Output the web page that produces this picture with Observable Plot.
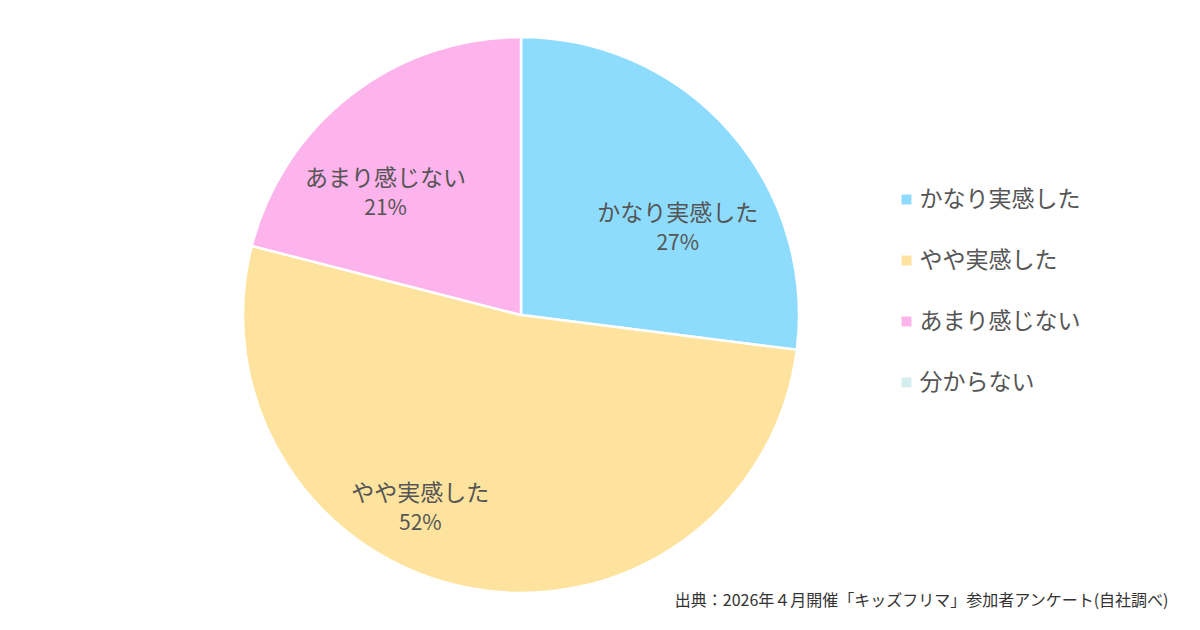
<!DOCTYPE html>
<html lang="ja">
<head>
<meta charset="utf-8">
<script src="https://cdn.jsdelivr.net/npm/d3@7"></script>
<script src="https://cdn.jsdelivr.net/npm/@observablehq/plot@0.6"></script>
<style>
  html, body { margin: 0; padding: 0; background: #fff; }
  #wrap { position: relative; width: 1200px; height: 630px; overflow: hidden; font-family: "Noto Sans CJK JP", "Noto Sans", sans-serif; }
  #legend { position: absolute; left: 896px; top: 170px; }
  #chart { position: absolute; left: 0; top: 0; }
</style>
</head>
<body>
<div id="wrap"><div id="chart"></div><div id="legend"></div></div>
<script>
const categories = ["かなり実感した", "やや実感した", "あまり感じない", "分からない"];
const percents = [27, 52, 21, 0];
const colors = ["#8edcfd", "#fde39d", "#fdb3eb", "#d3eeef"];
const caption = "出典：2026年４月開催「キッズフリマ」参加者アンケート(自社調べ)";

// label layout tweaks (angle shift in degrees, radius as share of pie radius)
const labelAngleShift = [12, 17, -10, 0];
const labelRadius = [0.645, 0.78, 0.66, 0.65];

const FONT = "'Noto Sans CJK JP', 'Noto Sans', sans-serif";
const rows = categories.map((c, i) => ({category: c, value: percents[i], i}));
const arcs = d3.pie().sort(null).value(d => d.value)(rows);
const colorScale = Plot.scale({color: {type: "ordinal", domain: categories, range: colors}});

const labels = arcs.filter(a => a.data.value > 0).map(a => {
  const i = a.data.i;
  const ang = (a.startAngle + a.endAngle) / 2 + labelAngleShift[i] * Math.PI / 180;
  const r = labelRadius[i];
  return {x: Math.sin(ang) * r, y: Math.cos(ang) * r, name: a.data.category, pct: `${a.data.value}%`};
});

const pieMark = (index, scales) => {
  const x0 = scales.x(0), y0 = scales.y(0);
  const R = scales.x(1) - scales.x(0);
  const arc = d3.arc().innerRadius(0).outerRadius(R);
  const g = d3.create("svg:g").attr("transform", `translate(${x0},${y0})`);
  g.selectAll("path").data(arcs.filter(a => a.data.value > 0)).join("path")
    .attr("d", arc)
    .attr("fill", d => colorScale.apply(d.data.category))
    .attr("stroke", "#fff")
    .attr("stroke-width", 2.5)
    .attr("stroke-linejoin", "round");
  return g.node();
};

const chart = Plot.plot({
  width: 1200,
  height: 630,
  marginTop: 0, marginLeft: 0, marginRight: 32, marginBottom: 30,
  style: {fontFamily: FONT, background: "#fff"},
  x: {domain: [-1, 1], range: [243, 799], axis: null},
  y: {domain: [-1, 1], range: [593, 37], axis: null},
  marks: [
    pieMark,
    Plot.text(labels, {x: "x", y: "y", text: "name", dy: -14, fontSize: 23, fill: "#555", lineAnchor: "middle"}),
    Plot.text(labels, {x: "x", y: "y", text: "pct", dy: 16, fontSize: 21, fill: "#555", lineAnchor: "middle"}),
    Plot.text([caption], {frameAnchor: "bottom-right", text: d => d, fontSize: 16, fill: "#333", textAnchor: "end", lineAnchor: "middle"})
  ]
});
document.getElementById("chart").appendChild(chart);

const legend = Plot.plot({
  width: 280,
  height: 240,
  marginLeft: 10, marginRight: 0, marginTop: 0, marginBottom: 0,
  style: {fontFamily: FONT, background: "transparent"},
  y: {type: "point", domain: categories, range: [29, 212], padding: 0, axis: null},
  color: {domain: categories, range: colors},
  marks: [
    Plot.dot(categories, {y: d => d, frameAnchor: "left", fill: d => d, symbol: "square", r: 5.6}),
    Plot.text(categories, {y: d => d, frameAnchor: "left", dx: 13, text: d => d, textAnchor: "start", fontSize: 23, fill: "#555"})
  ]
});
document.getElementById("legend").appendChild(legend);
</script>
</body>
</html>
